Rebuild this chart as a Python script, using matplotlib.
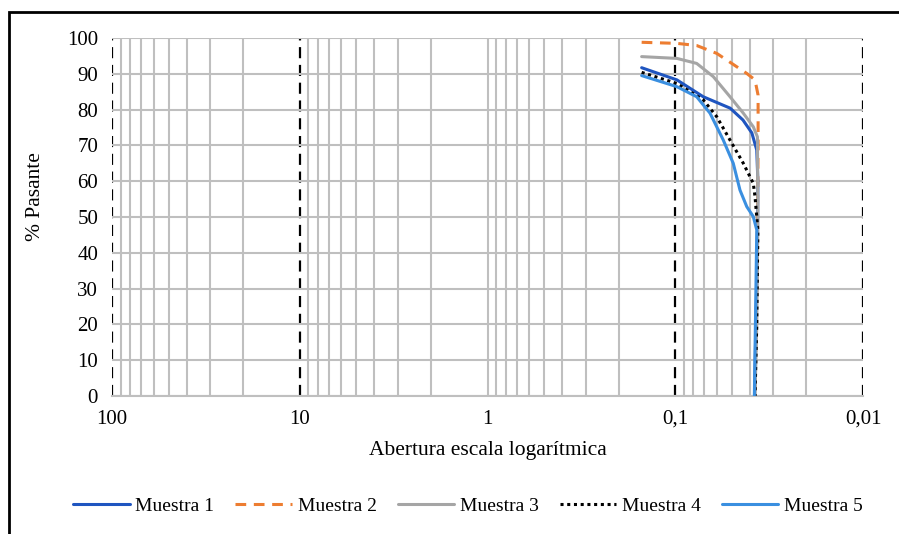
import matplotlib
matplotlib.use("Agg")
import matplotlib.pyplot as plt
from matplotlib.ticker import FixedLocator, FixedFormatter, NullFormatter

plt.rcParams['font.family'] = ['Liberation Serif', 'DejaVu Serif']

# ---------------- data ----------------
series_names = ["Muestra 1", "Muestra 2", "Muestra 3", "Muestra 4", "Muestra 5"]

m1_x = [0.151, 0.098, 0.071, 0.051, 0.0436, 0.0391, 0.0368, 0.0363, 0.0365, 0.0372, 0.0378]
m1_y = [91.7, 88.3, 83.6, 80.4, 77.1, 73.5, 68.7, 60, 40, 20, 0]

m2_x = [0.151, 0.098, 0.0769, 0.0601, 0.0416, 0.0376, 0.0362, 0.0362, 0.0368, 0.0376]
m2_y = [98.8, 98.5, 97.9, 95.7, 90.1, 88.3, 84, 70, 30, 0]

m3_x = [0.151, 0.098, 0.0769, 0.0627, 0.0511, 0.0434, 0.0384, 0.0365, 0.0363, 0.0368, 0.0376]
m3_y = [94.8, 94.3, 92.9, 89.2, 83.6, 79.0, 75.2, 72.4, 50, 20, 0]

m4_x = [0.151, 0.098, 0.0709, 0.0601, 0.0511, 0.0434, 0.0384, 0.0376, 0.0363, 0.0368, 0.0376]
m4_y = [90.4, 87.3, 82.7, 78.0, 71.5, 65.0, 59.4, 55.7, 46.4, 20, 0]

m5_x = [0.151, 0.098, 0.0769, 0.0653, 0.0555, 0.0491, 0.0452, 0.0416, 0.0384, 0.0368, 0.0373, 0.0379]
m5_y = [89.5, 86.4, 83.6, 79.0, 71.5, 65.0, 57.5, 52.9, 50.1, 46.4, 25, 0]

x_major = [100, 10, 1, 0.1, 0.01]
x_major_labels = ["100", "10", "1", "0,1", "0,01"]
dashed_decades = [100, 10, 0.1, 0.01]
y_ticks = list(range(0, 101, 10))

# ---------------- styling ----------------
colors = ["#1F55C0", "#ED7D31", "#A5A5A5", "#000000", "#3A8FE0"]
styles = ["-", (0, (3.5, 2.5)), "-", (0, (1, 1.2)), "-"]
grid_gray = "#BFBFBF"

fig = plt.figure(figsize=(8.99, 5.34), dpi=100)
ax = fig.add_axes([112/899, 1-396/534, (863-112)/899, (396-38)/534])

ax.set_xscale("log")
ax.set_xlim(100, 0.01)
ax.set_ylim(0, 100)

minor_ticks = [m * 10.0**e for e in range(-2, 2) for m in range(2, 10)]
ax.xaxis.set_major_locator(FixedLocator(x_major))
ax.xaxis.set_major_formatter(FixedFormatter(x_major_labels))
ax.xaxis.set_minor_locator(FixedLocator(minor_ticks))
ax.xaxis.set_minor_formatter(NullFormatter())
ax.set_yticks(y_ticks)

ax.grid(which="minor", axis="x", color=grid_gray, lw=1.5, zorder=0)
ax.grid(which="major", axis="y", color=grid_gray, lw=1.5, zorder=0)
for d in x_major:
    if d in dashed_decades:
        ax.axvline(d, color="black", lw=1.6, ls=(0, (5, 3)), zorder=1)
    else:
        ax.axvline(d, color=grid_gray, lw=1.5, zorder=0)

ax.tick_params(which="both", length=0, labelsize=15, pad=10)
for s in ["top", "right", "left"]:
    ax.spines[s].set_visible(False)
ax.spines["bottom"].set_color(grid_gray)
ax.spines["bottom"].set_linewidth(1.5)

xs = [m1_x, m2_x, m3_x, m4_x, m5_x]
ys = [m1_y, m2_y, m3_y, m4_y, m5_y]
for name, x, y, c, ls in zip(series_names, xs, ys, colors, styles):
    ax.plot(x, y, color=c, ls=ls, lw=2.2, label=name, zorder=3,
            solid_joinstyle="round", solid_capstyle="round")

ax.set_xlabel("Abertura escala logarítmica", fontsize=15.5)
ax.xaxis.set_label_coords(0.5, -(450-396)/358, transform=ax.transAxes)
ax.set_ylabel("% Pasante", fontsize=15.5)
ax.yaxis.set_label_coords((35-112)/751, (396-197)/358, transform=ax.transAxes)
ax.xaxis.label.set_va("center")
ax.yaxis.label.set_va("center")

leg = fig.legend(loc="center", bbox_to_anchor=(468/899, 1-506/534), ncol=5,
                 frameon=False, fontsize=14, handlelength=2.9,
                 columnspacing=1.08, handletextpad=0.3)

# partial figure frame (top & left visible as in reference)
frame = plt.Rectangle((9/899, -0.1), 1.2, 1-12/534+0.1, transform=fig.transFigure,
                      fill=False, edgecolor="black", lw=2.0, zorder=10)
fig.patches.append(frame)

fig.savefig("out.png", dpi=100)
